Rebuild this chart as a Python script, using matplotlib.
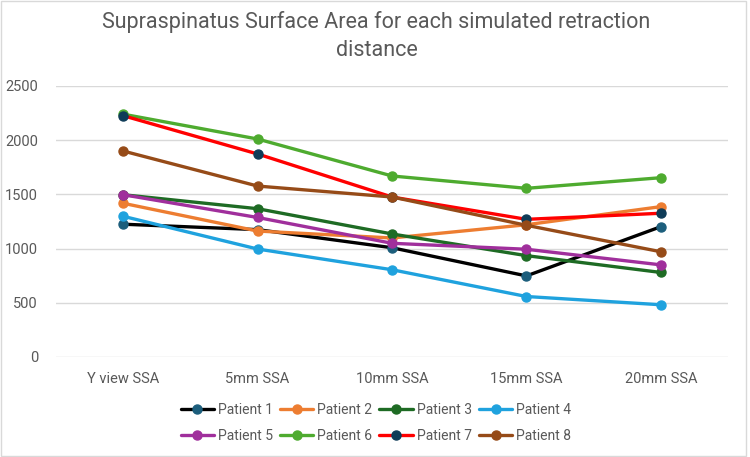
import matplotlib
matplotlib.use("Agg")
import matplotlib.pyplot as plt
from matplotlib.patches import Rectangle

plt.rcParams['font.family'] = ['Roboto', 'DejaVu Sans']

categories = ["Y view SSA", "5mm SSA", "10mm SSA", "15mm SSA", "20mm SSA"]
patients = ["Patient 1", "Patient 2", "Patient 3", "Patient 4",
            "Patient 5", "Patient 6", "Patient 7", "Patient 8"]
p1 = [1225, 1175, 1008, 748, 1202]
p2 = [1418, 1162, 1098, 1220, 1387]
p3 = [1497, 1368, 1135, 935, 780]
p4 = [1298, 996, 805, 558, 482]
p5 = [1497, 1287, 1049, 994, 850]
p6 = [2240, 2011, 1670, 1556, 1654]
p7 = [2226, 1873, 1476, 1270, 1326]
p8 = [1900, 1577, 1476, 1215, 971]
series = [p1, p2, p3, p4, p5, p6, p7, p8]
line_colors = ["#000000", "#ED7D31", "#1E6B24", "#1FA2DE",
               "#A02F9C", "#4EAB2F", "#FF0000", "#964B18"]
marker_colors = ["#1C5E7C", "#ED7D31", "#1E6B24", "#1FA2DE",
                 "#A02F9C", "#4EAB2F", "#0F3C58", "#964B18"]
yticks = [0, 500, 1000, 1500, 2000, 2500]

fig = plt.figure(figsize=(7.5, 4.57), dpi=100)
ax = fig.add_axes([56/750, 1-357/457, (728-56)/750, (357-86)/457])

x = list(range(len(categories)))
handles = []
for name, vals, lc, mc in zip(patients, series, line_colors, marker_colors):
    h, = ax.plot(x, vals, color=lc, lw=2.4, marker='o', markersize=6.5,
                 markerfacecolor=mc, markeredgecolor=mc, label=name,
                 solid_capstyle='round')
    handles.append(h)

ax.set_xlim(-0.5, len(categories) - 0.5)
ax.set_ylim(0, 2500)
ax.set_yticks(yticks)
ax.set_xticks(x)
ax.set_xticklabels(categories)
ax.grid(axis='y', color='#D9D9D9', lw=1)
ax.set_axisbelow(True)
for s in ax.spines.values():
    s.set_visible(False)
ax.tick_params(axis='both', length=0, colors='#595959', labelsize=10.5)
ax.tick_params(axis='x', pad=11)
ax.tick_params(axis='y', pad=13)

fig.text(0.502, 1-22/457, "Supraspinatus Surface Area for each simulated retraction",
         ha='center', va='center', fontsize=15.5, color='#595959')
fig.text(0.502, 1-51/457, "distance", ha='center', va='center',
         fontsize=15.5, color='#595959')

# legend filled row by row (matplotlib fills column-major)
ncol = 4
order = [r * ncol + c for c in range(ncol) for r in range(2)]
leg = fig.legend([handles[i] for i in order], [patients[i] for i in order],
                 loc='center', bbox_to_anchor=(376/750, 1-423/457), ncol=ncol,
                 frameon=False, fontsize=10, handlelength=2.4,
                 columnspacing=0.5, handletextpad=0.3, labelspacing=0.9)
for t in leg.get_texts():
    t.set_color('#595959')

fig.patches.append(Rectangle((0.001, 0.002), 0.993, 0.996, transform=fig.transFigure,
                             fill=False, edgecolor='#D9D9D9', lw=1))

fig.savefig("out.png", dpi=100)
